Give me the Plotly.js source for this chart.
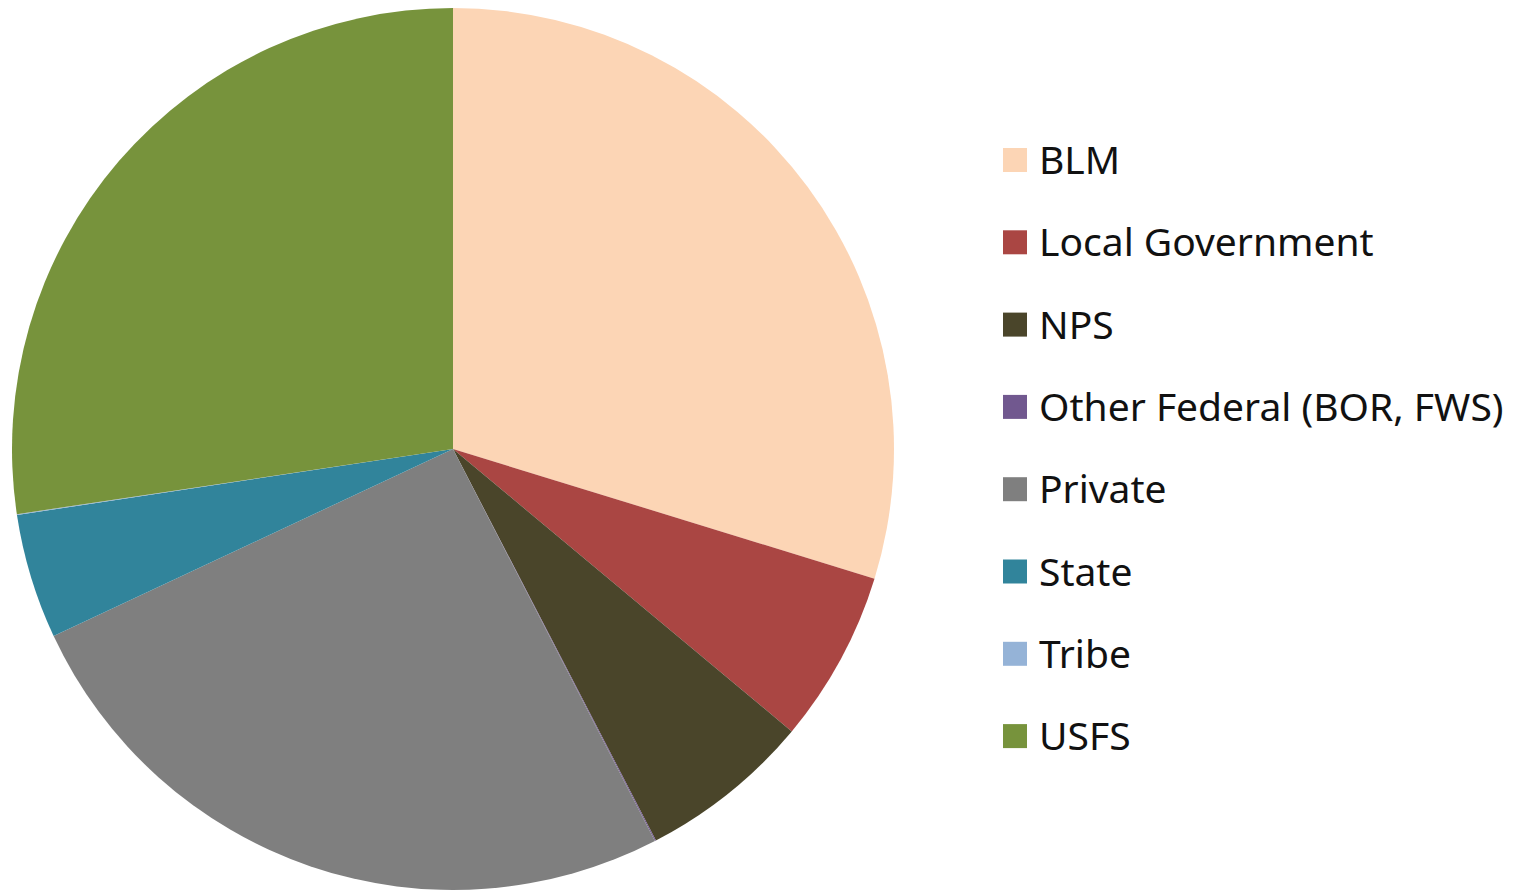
<!DOCTYPE html>
<html>
<head>
<meta charset="utf-8">
<script src="https://cdn.plot.ly/plotly-3.0.1.min.js"></script>
<style>html,body{margin:0;padding:0;background:#fff;}#chart{width:1530px;height:890px;}</style>
</head>
<body>
<div id="chart"></div>
<script>
const categories = ["BLM", "Local Government", "NPS", "Other Federal (BOR, FWS)", "Private", "State", "Tribe", "USFS"];
const shares = [29.75, 6.31, 6.33, 0.04, 25.6, 4.58, 0.03, 27.36];
const colors = ["#FCD5B5", "#AA4643", "#4A452A", "#71588F", "#7F7F7F", "#31849B", "#95B3D7", "#77933C"];

const W = 1530, H = 890;
const cx = 453, cy = 449, r = 441;

const trace = {
  type: "pie",
  labels: categories,
  values: shares,
  sort: false,
  direction: "clockwise",
  rotation: 0,
  textinfo: "none",
  hoverinfo: "label+percent",
  marker: {colors: colors, line: {width: 0}},
  domain: {x: [(cx - r) / W, (cx + r) / W], y: [(H - cy - r) / H, (H - cy + r) / H]},
  showlegend: false
};

const shapes = [], annotations = [];
const legX = 1003, legSq = 24, legTextX = 1037, legY0 = 160, legStep = 82.3;
categories.forEach((c, i) => {
  const yc = legY0 + i * legStep;
  shapes.push({type: "rect", xref: "paper", yref: "paper",
    x0: legX / W, x1: (legX + legSq) / W,
    y0: (H - yc - legSq / 2) / H, y1: (H - yc + legSq / 2) / H,
    fillcolor: colors[i], line: {width: 0}});
  annotations.push({xref: "paper", yref: "paper", x: legTextX / W, y: (H - yc + 1.5) / H,
    xanchor: "left", yanchor: "middle", showarrow: false, text: c,
    font: {family: "Noto Sans, sans-serif", size: 39, color: "#111"}});
});

Plotly.newPlot("chart", [trace], {
  width: W, height: H,
  margin: {l: 0, r: 0, t: 0, b: 0},
  paper_bgcolor: "#fff",
  shapes: shapes,
  annotations: annotations
}, {displayModeBar: false});
</script>
</body>
</html>
